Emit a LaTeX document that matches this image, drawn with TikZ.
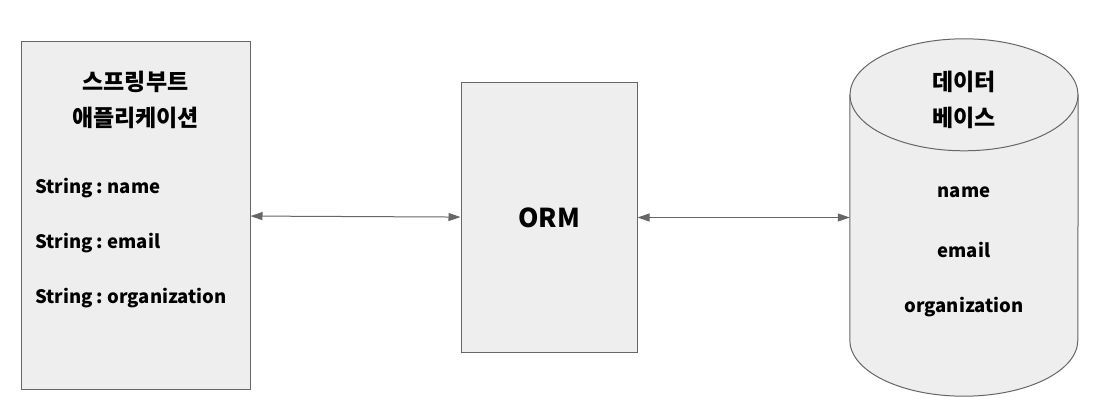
\documentclass[tikz,border=0pt]{standalone}
\usepackage{fontspec}
\setmainfont{Noto Sans CJK KR}
\usepackage{tikz}
\usetikzlibrary{arrows.meta}
\definecolor{boxfill}{HTML}{EEEEEE}
\definecolor{boxline}{HTML}{666666}
\tikzset{box/.style={draw=boxline, fill=boxfill, line width=1pt, inner sep=0pt},
title/.style={align=center, font=\bfseries\fontsize{23}{36}\selectfont},
field/.style={font=\bfseries\fontsize{18.5}{24}\selectfont, inner sep=0pt},
link/.style={boxline, line width=1pt, {Triangle[length=12pt,width=8pt]}-{Triangle[length=12pt,width=8pt]}}}

\begin{document}
\begin{tikzpicture}[x=1pt,y=-1pt]
\useasboundingbox (0,0) rectangle (1116,417);
% boxes
\node[box, minimum width=229pt, minimum height=347pt] (app) at (135.5,215.5) {};
\node[box, minimum width=176pt, minimum height=269pt, font=\bfseries\fontsize{26}{30}\selectfont] (orm) at (549,217.5) {ORM};

% database
\node[minimum width=228pt, minimum height=357pt, inner sep=0pt] (db) at (964,217.5) {};
\draw[box] ([yshift=-56pt]db.north west) -- ([yshift=56pt]db.south west)
  arc[start angle=180, end angle=360, x radius=114pt, y radius=56pt]
  -- ([yshift=-56pt]db.north east) -- cycle;
\draw[box] ([yshift=-56pt]db.north) ellipse[x radius=114pt, y radius=56pt];

%labels
\node[title] (apptitle) at (135.5,100) {스프링부트\\애플리케이션};
\node[title] (dbtitle) at (964,100) {데이터\\베이스};
\foreach \y/\field in {188/name,243/email,298/organization}
     \node[field, anchor=west] (app-\field) at (35,\y) {String\ :\ \field};
\foreach \y/\field in {192/name,250/email,307/organization}
     \node[field] (db-\field) at (964,\y) {\field};

\draw[link] (app) -- (orm);
\draw[link] (orm) -- (db);
\end{tikzpicture}
\end{document}
